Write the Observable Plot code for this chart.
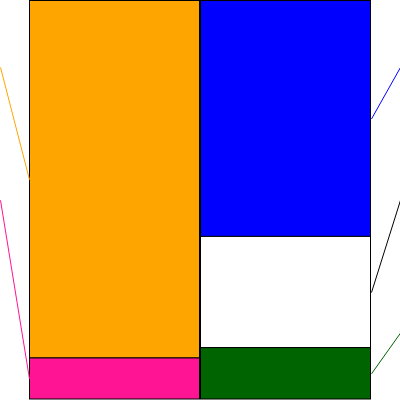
<!DOCTYPE html>
<html>
<head>
<meta charset="utf-8">
<script src="https://cdn.jsdelivr.net/npm/d3@7"></script>
<script src="https://cdn.jsdelivr.net/npm/@observablehq/plot@0.6"></script>
<style>body{margin:0;background:#fff}</style>
</head>
<body>
<div id="chart"></div>
<script>
// Left column (assets), top to bottom
const leftNames = ["A1", "A2"];
const leftValues = [89.7, 10.3];
const leftColors = ["#FFA500", "#FF1493"];
const leftLines = ["#FFA500", "#FF1493"];
// Right column (liabilities / equity), top to bottom
const rightNames = ["B1", "B2", "B3"];
const rightValues = [59.2, 27.9, 12.9];
const rightColors = ["#0000FF", "#FFFFFF", "#006400"];
const rightLines = ["#0000FF", "#000000", "#006400"];

function build(names, values, colors, lines, col, side) {
  let acc = 0;
  return names.map((name, i) => {
    const y1 = acc; acc += values[i];
    return {name, col, side, y1, y2: acc, mid: (y1 + acc) / 2,
            fill: colors[i], line: lines[i], labelY: 100 * (2 * i + 1) / 6};
  });
}
const rows = [
  ...build(leftNames, leftValues, leftColors, leftLines, 0, "L"),
  ...build(rightNames, rightValues, rightColors, rightLines, 1, "R")
];

const W = 400, H = 400;
const xRange = [29, 371];
const xs = d3.scaleLinear().domain([0, 2]).range(xRange);
const outerL = xs.invert(0), outerR = xs.invert(W);

const chart = Plot.plot({
  width: W, height: H,
  marginTop: 0, marginBottom: 0, marginLeft: 0, marginRight: 0,
  x: {type: "linear", domain: [0, 2], range: xRange, axis: null},
  y: {domain: [0, 100], range: [0.5, 399], axis: null},
  marks: [
    Plot.rect(rows, {
      x1: d => d.col, x2: d => d.col + 1, y1: "y1", y2: "y2",
      fill: d => d.fill, stroke: "black", strokeWidth: 1,
      inset: 0.5, insetTop: 0, insetBottom: 0
    }),
    Plot.link(rows, {
      x1: d => d.side === "L" ? outerL : outerR,
      y1: "labelY",
      x2: d => d.side === "L" ? 0 : 2,
      y2: "mid",
      stroke: d => d.line, strokeWidth: 1, clip: false
    })
  ]
});
document.getElementById("chart").appendChild(chart);
</script>
</body>
</html>
